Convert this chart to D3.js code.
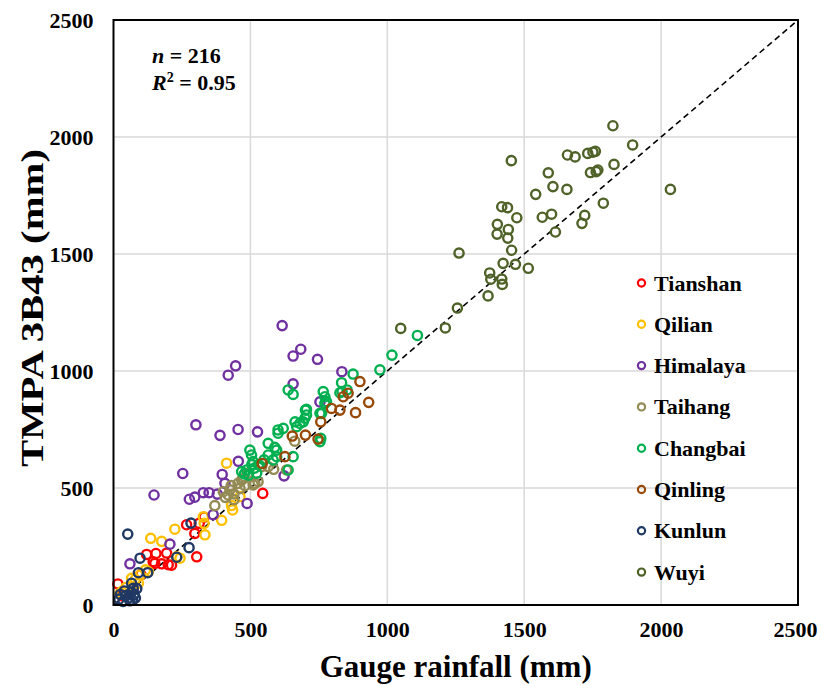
<!DOCTYPE html>
<html>
<head>
<meta charset="utf-8">
<script src="https://cdn.jsdelivr.net/npm/d3@7"></script>
<style>
  html, body { margin: 0; padding: 0; background: #fff; }
  svg { display: block; font-family: "Liberation Serif", "Times New Roman", serif; font-weight: bold; }
</style>
</head>
<body>
<svg id="chart" width="821" height="685"></svg>
<script>
// Annual rainfall: gauge (x) vs TMPA 3B43 (y), in mm, per mountain region
const tianshan = [[16,90],[72,71],[121,216],[145,185],[155,220],[194,222],[151,178],[176,176],[200,172],[212,170],[304,206],[267,343],[297,306],[313,349],[331,375],[545,477],[100,130],[30,40]];
const qilian = [[24,50],[30,57],[45,75],[66,114],[80,110],[91,93],[97,128],[117,150],[127,142],[136,285],[176,272],[224,324],[231,206],[243,200],[328,377],[331,349],[334,300],[395,362],[413,606],[431,425],[435,406],[462,463]];
const himalaya = [[60,176],[148,470],[206,260],[253,562],[277,452],[297,461],[301,770],[328,480],[349,480],[364,386],[379,474],[389,725],[397,558],[407,520],[419,982],[446,1022],[455,750],[456,614],[488,434],[526,740],[616,1194],[623,552],[656,1064],[656,945],[684,1093],[745,1050],[754,868],[834,997]];
const taihang = [[370,425],[401,484],[408,460],[419,470],[425,492],[430,510],[440,450],[455,520],[462,498],[468,534],[474,540],[480,510],[492,563],[510,513],[516,520],[528,527],[541,591],[565,591],[585,580],[632,577],[662,700],[440,475]];
const changbai = [[1110,1152],[1017,1068],[973,1005],[875,987],[833,950],[835,912],[853,919],[827,907],[766,912],[772,890],[778,869],[772,862],[760,819],[754,819],[754,698],[757,712],[705,836],[705,812],[701,833],[699,798],[693,783],[681,776],[663,783],[669,762],[656,900],[638,919],[620,755],[601,748],[601,734],[565,691],[589,674],[596,634],[583,620],[565,641],[596,662],[498,662],[504,641],[510,613],[468,570],[486,577],[523,563],[638,577],[656,634],[505,600],[530,600],[550,620],[478,560],[493,555],[515,585]];
const qinling = [[543,605],[626,634],[653,722],[701,726],[747,709],[757,783],[796,840],[827,833],[839,890],[857,905],[884,822],[900,955],[932,866]];
const kunlun = [[52,303],[97,200],[231,204],[276,245],[283,350],[91,138],[125,138],[66,93],[72,71],[20,25],[35,15],[45,40],[55,30],[65,55],[75,45],[85,70],[80,30],[25,45],[60,18],[40,60],[70,20]];
const wuyi = [[1824,2048],[1896,1966],[1453,1899],[1658,1923],[1686,1915],[1732,1930],[1760,1939],[1751,1935],[1828,1883],[1588,1847],[1742,1848],[1769,1859],[1763,1852],[1605,1788],[1656,1776],[1542,1755],[2034,1776],[1789,1717],[1418,1702],[1439,1698],[1473,1655],[1566,1657],[1600,1670],[1721,1665],[1711,1631],[1402,1627],[1401,1585],[1442,1605],[1440,1568],[1614,1594],[1454,1516],[1262,1504],[1423,1460],[1468,1456],[1515,1439],[1374,1419],[1378,1392],[1418,1393],[1420,1370],[1368,1321],[1256,1269],[1049,1182],[1212,1184]];

const regionNames = ["Tianshan","Qilian","Himalaya","Taihang","Changbai","Qinling","Kunlun","Wuyi"];
const regionColors = ["#ff0000","#ffc000","#7030a0","#948a54","#00b050","#984807","#1f3864","#4f6228"];
const regionData = [tianshan, qilian, himalaya, taihang, changbai, qinling, kunlun, wuyi];
const tickValues = [0, 500, 1000, 1500, 2000, 2500];
const sampleCount = "216";
const r2Value = "0.95";

const svg = d3.select("#chart");
const plotL = 113.5, plotR = 798, plotT = 20, plotB = 605;

const x = d3.scaleLinear().domain([0, 2500]).range([plotL, plotR]);
const y = d3.scaleLinear().domain([0, 2500]).range([plotB, plotT]);

// gridlines
const grid = svg.append("g");
grid.selectAll(".gx").data(tickValues.slice(1, -1)).join("line")
  .attr("x1", d => x(d)).attr("x2", d => x(d))
  .attr("y1", plotT).attr("y2", plotB)
  .attr("stroke", "#d9d9d9").attr("stroke-width", 1.5);
grid.selectAll(".gy").data(tickValues.slice(1, -1)).join("line")
  .attr("y1", d => y(d)).attr("y2", d => y(d))
  .attr("x1", plotL).attr("x2", plotR)
  .attr("stroke", "#d9d9d9").attr("stroke-width", 1.5);

// axes with labels
const fmt = d3.format("d");
const xAxis = svg.append("g").attr("transform", `translate(0,${plotB})`)
  .call(d3.axisBottom(x).tickValues(tickValues).tickFormat(fmt).tickSize(0).tickPadding(16));
const yAxis = svg.append("g").attr("transform", `translate(${plotL},0)`)
  .call(d3.axisLeft(y).tickValues(tickValues).tickFormat(fmt).tickSize(0).tickPadding(20));
[xAxis, yAxis].forEach(a => {
  a.select(".domain").remove();
  a.selectAll("text").attr("font-family", "Liberation Serif").attr("font-weight", "bold")
    .attr("font-size", 22).attr("fill", "#000");
});
// keep the last x label inside the page
xAxis.selectAll(".tick text").filter(d => d === 2500).attr("dx", -3);

// 1:1 line
svg.append("line")
  .attr("x1", x(0)).attr("y1", y(0)).attr("x2", x(2500)).attr("y2", y(2500))
  .attr("stroke", "#000").attr("stroke-width", 1.6).attr("stroke-dasharray", "6,4");

// scatter points
regionData.forEach((pts, i) => {
  svg.append("g").selectAll("circle").data(pts).join("circle")
    .attr("cx", d => x(d[0])).attr("cy", d => y(d[1])).attr("r", 4.6)
    .attr("fill", "none").attr("stroke", regionColors[i]).attr("stroke-width", 2.4);
});

// frame
svg.append("rect").attr("x", plotL).attr("y", plotT)
  .attr("width", plotR - plotL).attr("height", plotB - plotT)
  .attr("fill", "none").attr("stroke", "#000").attr("stroke-width", 2);

// axis titles
svg.append("text").attr("x", (plotL + plotR) / 2).attr("y", 677)
  .attr("text-anchor", "middle").attr("font-size", 31).text("Gauge rainfall (mm)");
svg.append("text").attr("transform", `translate(43,308) rotate(-90)`)
  .attr("text-anchor", "middle").attr("font-size", 31)
  .attr("textLength", 318).attr("lengthAdjust", "spacingAndGlyphs")
  .text("TMPA 3B43 (mm)");

// statistics
const s1 = svg.append("text").attr("x", 152).attr("y", 63).attr("font-size", 22);
s1.append("tspan").attr("font-style", "italic").text("n");
s1.append("tspan").text(" = " + sampleCount);
const s2 = svg.append("text").attr("x", 152).attr("y", 90).attr("font-size", 22);
s2.append("tspan").attr("font-style", "italic").text("R");
s2.append("tspan").attr("font-size", 14).attr("dy", -8).text("2");
s2.append("tspan").attr("dy", 8).text(" = " + r2Value);

// legend
const legend = svg.append("g");
regionNames.forEach((name, i) => {
  const ly = 283 + i * 41.3;
  legend.append("circle").attr("cx", 641.5).attr("cy", ly).attr("r", 3.6)
    .attr("fill", "none").attr("stroke", regionColors[i]).attr("stroke-width", 2.2);
  legend.append("text").attr("x", 654).attr("y", ly + 7.5).attr("font-size", 22).text(name);
});
</script>
</body>
</html>
